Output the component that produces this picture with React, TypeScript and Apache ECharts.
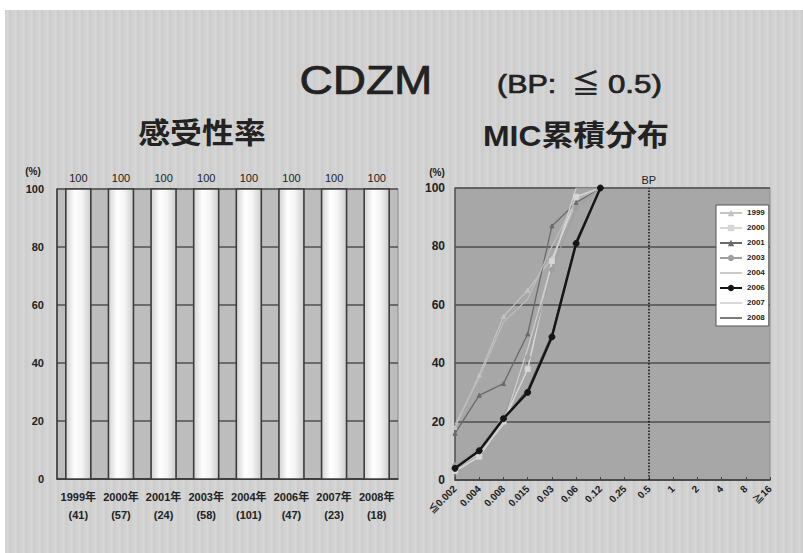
import React, { useEffect, useRef } from "react";
import * as echarts from "echarts";

// 感受性率 (left): susceptibility per year
const yearLabels = ["1999年", "2000年", "2001年", "2003年", "2004年", "2006年", "2007年", "2008年"];
const yearCounts = [41, 57, 24, 58, 101, 47, 23, 18];
const susceptibleRate = [100, 100, 100, 100, 100, 100, 100, 100];

// MIC累積分布 (right): cumulative MIC distribution
const micLabels = ["≦0.002", "0.004", "0.008", "0.015", "0.03", "0.06", "0.12", "0.25", "0.5", "1", "2", "4", "8", "≧16"];
const cum1999 = [18, 36, 56, 65, 76, 95, 100];
const cum2000 = [3, 8, 20, 38, 75, 97, 100];
const cum2001 = [16, 29, 33, 50, 87, 95, 100];
const cum2003 = [5, 11, 22, 42, 72, 93, 100];
const cum2004 = [19, 35, 54, 62, 80, 96, 100];
const cum2006 = [4, 10, 21, 30, 49, 81, 100];
const cum2007 = [4, 9, 19, 45, 74, 100, 100];
const cum2008 = [4, 10, 21, 31, 50, 82, 100];
const breakpoint = "0.5";

const FONT = "'Liberation Sans', 'Noto Sans CJK JP', sans-serif";
const LINE_ICON = "path://M0,0 H22 V1.6 H0 Z";
const BAR_WIDTH = 25;

export default function App() {
  const ref = useRef<HTMLDivElement>(null);

  useEffect(() => {
    if (!ref.current) return;
    const chart = echarts.init(ref.current, null, { renderer: "svg" });

    const lineDefs = [
      { name: "1999", data: cum1999, color: "#c4c4c4", width: 1.2, symbol: "triangle", size: 4 },
      { name: "2000", data: cum2000, color: "#d6d6d6", width: 1.5, symbol: "rect", size: 5 },
      { name: "2001", data: cum2001, color: "#6a6a6a", width: 1.3, symbol: "triangle", size: 4 },
      { name: "2003", data: cum2003, color: "#a0a0a0", width: 1.2, symbol: "circle", size: 5 },
      { name: "2004", data: cum2004, color: "#bdbdbd", width: 1.2, symbol: "none", size: 0 },
      { name: "2006", data: cum2006, color: "#151515", width: 2.4, symbol: "circle", size: 6 },
      { name: "2007", data: cum2007, color: "#cfcfcf", width: 1.2, symbol: "none", size: 0 },
      { name: "2008", data: cum2008, color: "#5a5a5a", width: 1.3, symbol: "none", size: 0 },
    ];

    const lineSeries = lineDefs.map((d, i) => ({
      name: d.name,
      type: "line",
      xAxisIndex: 1,
      yAxisIndex: 1,
      data: d.data,
      symbol: d.symbol,
      symbolSize: d.size,
      showSymbol: d.symbol !== "none",
      z: d.name === "2006" ? 4 : 3,
      lineStyle: { color: d.color, width: d.width },
      itemStyle: { color: d.color, borderColor: d.color },
      markLine:
        i === 0
          ? {
              silent: true,
              symbol: "none",
              lineStyle: { color: "#1a1a1a", type: "dotted", width: 1.6 },
              label: {
                show: true,
                position: "end",
                formatter: "BP",
                color: "#222",
                fontSize: 11,
                fontFamily: FONT,
                distance: 3,
              },
              data: [{ xAxis: breakpoint }],
            }
          : undefined,
    }));

    const heading = (text: string, x: number, y: number, size: number, sx: number, weight: string, align: string) => {
      const style: any = {
        text,
        font: `${weight} ${size}px ${FONT}`,
        fill: "#222",
        textAlign: align,
        textVerticalAlign: "middle",
      };
      if (weight === "normal") {
        style.stroke = "#222";
        style.lineWidth = 0.7;
      }
      return { type: "text", x, y, scaleX: sx, style };
    };

    // cylinder-like shading for the susceptibility bars
    const barFill = () =>
      new echarts.graphic.LinearGradient(0, 0, 1, 0, [
        { offset: 0, color: "#d2d2d2" },
        { offset: 0.35, color: "#ffffff" },
        { offset: 0.65, color: "#f4f4f4" },
        { offset: 1, color: "#cdcdcd" },
      ]);

    chart.setOption({
      animation: false,
      textStyle: { fontFamily: FONT },
      graphic: [
        heading("CDZM", 366, 80, 40, 1.15, "normal", "center"),
        heading("(BP:", 497, 84, 25, 1.22, "normal", "left"),
        heading("≦", 586, 84, 26, 1.05, "normal", "center"),
        heading("0.5)", 608, 84, 25, 1.25, "normal", "left"),
        heading("感受性率", 202, 134, 29, 1.1, "bold", "center"),
        heading("MIC累積分布", 576, 136, 29, 1.1, "bold", "center"),
        {
          type: "text",
          x: 33,
          y: 171,
          style: { text: "(%)", font: `bold 10px ${FONT}`, fill: "#222", textAlign: "center", textVerticalAlign: "middle" },
        },
        {
          type: "text",
          x: 437,
          y: 172,
          style: { text: "(%)", font: `bold 10px ${FONT}`, fill: "#222", textAlign: "center", textVerticalAlign: "middle" },
        },
      ],
      legend: {
        orient: "vertical",
        left: 716,
        top: 205,
        data: lineDefs.map((d) => (d.symbol === "none" ? { name: d.name, icon: LINE_ICON } : d.name)),
        itemWidth: 22,
        itemHeight: 8,
        itemGap: 7,
        padding: [4, 4, 4, 3],
        backgroundColor: "#ffffff",
        borderColor: "#555",
        borderWidth: 1,
        borderRadius: 0,
        textStyle: { fontSize: 8, fontWeight: "bold", color: "#222", fontFamily: FONT },
        selectedMode: false,
      },
      grid: [
        {
          left: 57,
          top: 189,
          width: 341,
          height: 290,
          show: true,
          backgroundColor: "#bdbdbd",
          borderColor: "#8a8a8a",
          borderWidth: 1,
        },
        {
          left: 455,
          top: 188,
          width: 315,
          height: 292,
          show: true,
          backgroundColor: "#a7a7a7",
          borderColor: "#8e8e8e",
          borderWidth: 1,
        },
      ],
      xAxis: [
        {
          type: "category",
          gridIndex: 0,
          data: yearLabels,
          axisLine: { lineStyle: { color: "#333", width: 1.5 } },
          axisTick: { show: false },
          axisLabel: {
            interval: 0,
            margin: 9,
            formatter: (v: string, idx: number) => `{y|${v}}\n{n|(${yearCounts[idx]})}`,
            rich: {
              y: { fontSize: 11, fontWeight: "bold", color: "#222", fontFamily: FONT, lineHeight: 18 },
              n: { fontSize: 11, fontWeight: "bold", color: "#222", fontFamily: FONT, lineHeight: 18 },
            },
          },
        },
        {
          type: "category",
          gridIndex: 1,
          data: micLabels,
          boundaryGap: false,
          axisLine: { lineStyle: { color: "#444", width: 1.5 } },
          axisTick: { show: true, inside: true, length: 3, lineStyle: { color: "#444" } },
          axisLabel: {
            interval: 0,
            rotate: 45,
            margin: 7,
            fontSize: 10,
            fontWeight: "bold",
            color: "#222",
            fontFamily: FONT,
          },
        },
      ],
      yAxis: [
        {
          type: "value",
          gridIndex: 0,
          min: 0,
          max: 100,
          interval: 20,
          axisLine: { show: true, lineStyle: { color: "#333", width: 1.5 } },
          axisTick: { show: false },
          axisLabel: { fontSize: 11, fontWeight: "bold", color: "#222", margin: 13, fontFamily: FONT },
          splitLine: { show: true, lineStyle: { color: "#505050", width: 1.5 } },
        },
        {
          type: "value",
          gridIndex: 1,
          min: 0,
          max: 100,
          interval: 20,
          axisLine: { show: true, lineStyle: { color: "#555", width: 1.5 } },
          axisTick: { show: false },
          axisLabel: { fontSize: 12, fontWeight: "bold", color: "#222", margin: 10, fontFamily: FONT },
          splitLine: { show: true, lineStyle: { color: "#4e4e4e", width: 1.5 } },
        },
      ],
      series: [
        {
          name: "感受性率",
          type: "custom",
          xAxisIndex: 0,
          yAxisIndex: 0,
          z: 2,
          encode: { x: 0, y: 1 },
          data: susceptibleRate.map((v, i) => [i, v]),
          renderItem: (params: any, api: any) => {
            const idx = api.value(0);
            const val = api.value(1);
            const top = api.coord([idx, val]);
            const base = api.coord([idx, 0]);
            return {
              type: "group",
              children: [
                {
                  type: "rect",
                  shape: { x: top[0] - BAR_WIDTH / 2, y: top[1], width: BAR_WIDTH, height: base[1] - top[1] },
                  style: { fill: barFill(), stroke: "#3c3c3c", lineWidth: 1.6 },
                },
                {
                  type: "text",
                  x: top[0],
                  y: top[1] - 6,
                  style: {
                    text: String(val),
                    fill: "#222",
                    font: `11px ${FONT}`,
                    textAlign: "center",
                    textVerticalAlign: "bottom",
                  },
                },
              ],
            };
          },
        },
        ...lineSeries,
      ],
    });

    return () => chart.dispose();
  }, []);

  return (
    <div style={{ position: "fixed", left: 0, top: 0, width: 803, height: 553, background: "#ffffff", overflow: "hidden" }}>
      <div
        style={{
          position: "absolute",
          left: 5,
          top: 10,
          right: 0,
          bottom: 0,
          background: "repeating-linear-gradient(90deg, #d1d1d1 0px, #d6d6d6 3px, #cbcbcb 5px, #d3d3d3 8px)",
        }}
      />
      <div ref={ref} style={{ position: "absolute", left: 0, top: 0, width: 803, height: 553 }} />
    </div>
  );
}
